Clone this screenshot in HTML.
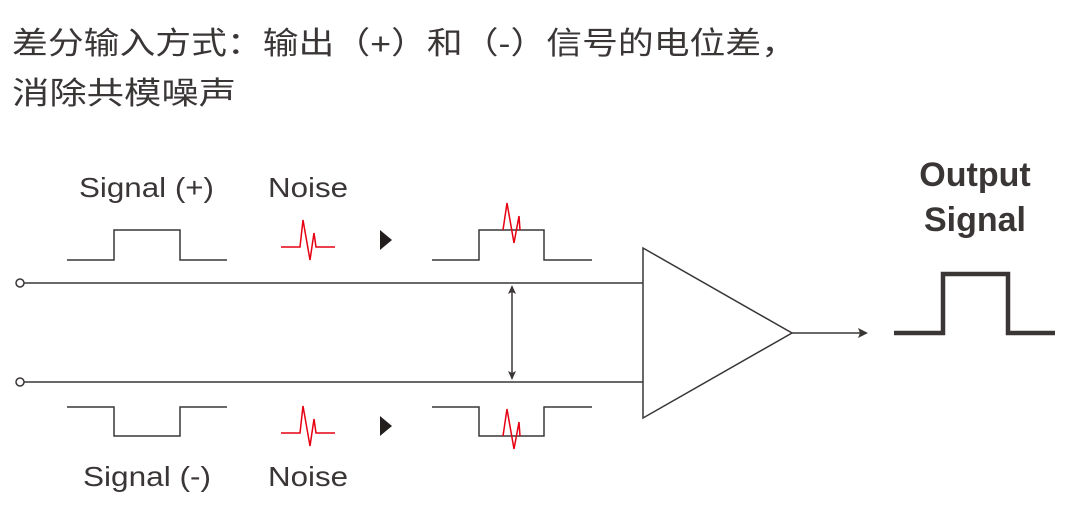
<!DOCTYPE html>
<html><head><meta charset="utf-8"><style>
html,body{margin:0;padding:0;background:#fff;}
svg{display:block;}
</style></head><body>
<svg width="1072" height="518" viewBox="0 0 1072 518" xmlns="http://www.w3.org/2000/svg" font-family="'Liberation Sans','Noto Sans CJK SC',sans-serif">
<text x="12" y="54" font-size="31" fill="#3a3636" textLength="785" lengthAdjust="spacingAndGlyphs">差分输入方式：输出（+）和（-）信号的电位差，</text>
<text x="12" y="104" font-size="31" fill="#3a3636" textLength="224" lengthAdjust="spacingAndGlyphs">消除共模噪声</text>

<g font-size="28" fill="#3a3636">
<text x="79" y="197" textLength="135" lengthAdjust="spacingAndGlyphs">Signal (+)</text>
<text x="268" y="197" textLength="80" lengthAdjust="spacingAndGlyphs">Noise</text>
<text x="83" y="486" textLength="128" lengthAdjust="spacingAndGlyphs">Signal (-)</text>
<text x="268" y="486" textLength="80" lengthAdjust="spacingAndGlyphs">Noise</text>
</g>
<g font-size="34" font-weight="bold" fill="#3a3636" text-anchor="middle">
<text x="975" y="186">Output</text>
<text x="975" y="231">Signal</text>
</g>

<g fill="none" stroke="#3a3636" stroke-width="1.5">
<polyline points="67,260 114,260 114,230 180,230 180,260 227,260"/>
<polyline points="67,407 114,407 114,436 180,436 180,407 227,407"/>
<polyline points="432,260 479,260 479,230 544,230 544,260 592,260"/>
<polyline points="432,407 479,407 479,436 544,436 544,407 592,407"/>
<line x1="24" y1="283" x2="643" y2="283"/>
<line x1="24" y1="382" x2="643" y2="382"/>
<circle cx="20" cy="283" r="4" fill="#fff"/>
<circle cx="20" cy="382" r="4" fill="#fff"/>
<line x1="512" y1="288" x2="512" y2="377"/>
<polygon points="643,248 643,418 792,333"/>
<line x1="792" y1="333" x2="862" y2="333"/>
</g>
<polygon points="512,285 508,294 512,292 516,294" fill="#3a3636"/>
<polygon points="512,380 508,371 512,373 516,371" fill="#3a3636"/>
<polygon points="868,333 858,328 860,333 858,338" fill="#3a3636"/>
<polyline points="894,333 943,333 943,274 1008,274 1008,333 1055,333" fill="none" stroke="#3a3636" stroke-width="4.5"/>

<g fill="none" stroke="#e60012" stroke-width="1.5">
<polyline points="281,247 300,247 303,220 310,260 314,233 316,247 335,247"/>
<polyline points="281,433 300,433 303,406 310,446 314,419 316,433 335,433"/>
<polyline points="503,230 507,203 514,243 519,216 520,230"/>
<polyline points="503,436 507,409 514,449 519,422 520,436"/>
</g>
<polygon points="380,230 380,250 392,240" fill="#231f1f"/>
<polygon points="380,416 380,436 392,426" fill="#231f1f"/>
</svg>
</body></html>
